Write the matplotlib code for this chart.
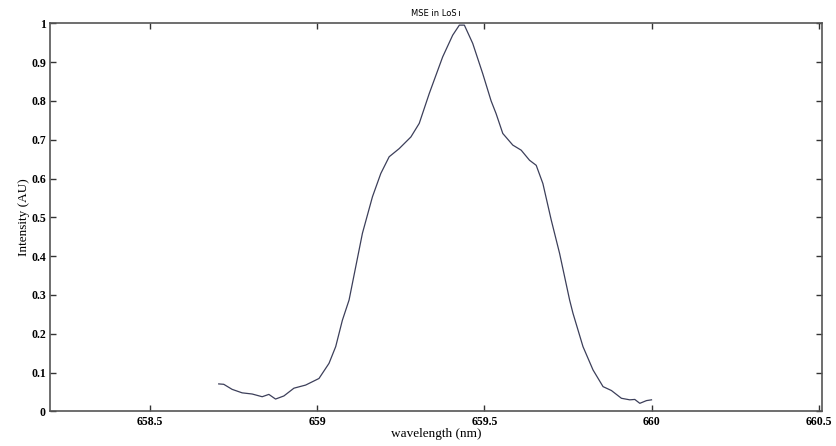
import numpy as np
import matplotlib
matplotlib.use("Agg")
import matplotlib.pyplot as plt

# spectrum
wavelength = [658.705, 658.72, 658.745, 658.775, 658.805, 658.835, 658.855, 658.875,
              658.90, 658.93, 658.965, 659.005, 659.035, 659.055, 659.075, 659.095,
              659.115, 659.135, 659.165, 659.19, 659.215, 659.245, 659.28, 659.305,
              659.335, 659.375, 659.405, 659.425, 659.44, 659.465, 659.495, 659.52,
              659.535, 659.555, 659.585, 659.61, 659.635, 659.655, 659.675, 659.70,
              659.725, 659.755, 659.765, 659.795, 659.825, 659.855, 659.88, 659.91,
              659.935, 659.95, 659.965, 659.985, 660.0]
intensity = [0.071, 0.070, 0.057, 0.048, 0.045, 0.038, 0.044, 0.032,
             0.040, 0.060, 0.068, 0.085, 0.124, 0.167, 0.235, 0.287,
             0.373, 0.459, 0.553, 0.613, 0.656, 0.677, 0.707, 0.742,
             0.819, 0.913, 0.969, 0.995, 0.995, 0.948, 0.870, 0.800,
             0.767, 0.716, 0.686, 0.673, 0.647, 0.634, 0.587, 0.493,
             0.407, 0.287, 0.253, 0.167, 0.107, 0.064, 0.054, 0.034,
             0.030, 0.031, 0.021, 0.028, 0.030]

xticks = [658.5, 659, 659.5, 660, 660.5]
xticklabels = ["658.5", "659", "659.5", "660", "660.5"]
yticks = [0, 0.1, 0.2, 0.3, 0.4, 0.5, 0.6, 0.7, 0.8, 0.9, 1]
yticklabels = ["0", "0.1", "0.2", "0.3", "0.4", "0.5", "0.6", "0.7", "0.8", "0.9", "1"]

fig = plt.figure(figsize=(8.37, 4.46), dpi=100)
ax = fig.add_axes([0.0597, 0.0774, 0.9223, 0.8706])

ax.plot(wavelength, intensity, color="#3c3f5a", lw=0.9)

ax.set_xlim(658.2, 660.51)
ax.set_ylim(0, 1)
ax.set_xticks(xticks)
ax.set_xticklabels(xticklabels)
ax.set_yticks(yticks)
ax.set_yticklabels(yticklabels)

serif = ["Liberation Serif", "DejaVu Serif"]
ax.tick_params(direction="in", length=4, width=1, top=True, right=True,
               colors="#333333", labelcolor="black", labelsize=8.5, pad=3)
for lab in ax.get_xticklabels() + ax.get_yticklabels():
    lab.set_family(serif)
    lab.set_fontweight("bold")
for s in ax.spines.values():
    s.set_color("#555555")
    s.set_linewidth(1.2)

ax.set_xlabel("wavelength (nm)", family=serif, fontsize=9.5, labelpad=0)
ax.set_ylabel("Intensity (AU)", family=serif, fontsize=9.5, labelpad=1)
ax.set_title("MSE in LoS\u2009\u0131", fontsize=6, family="DejaVu Sans", pad=5)

fig.savefig("out.png", dpi=100)
